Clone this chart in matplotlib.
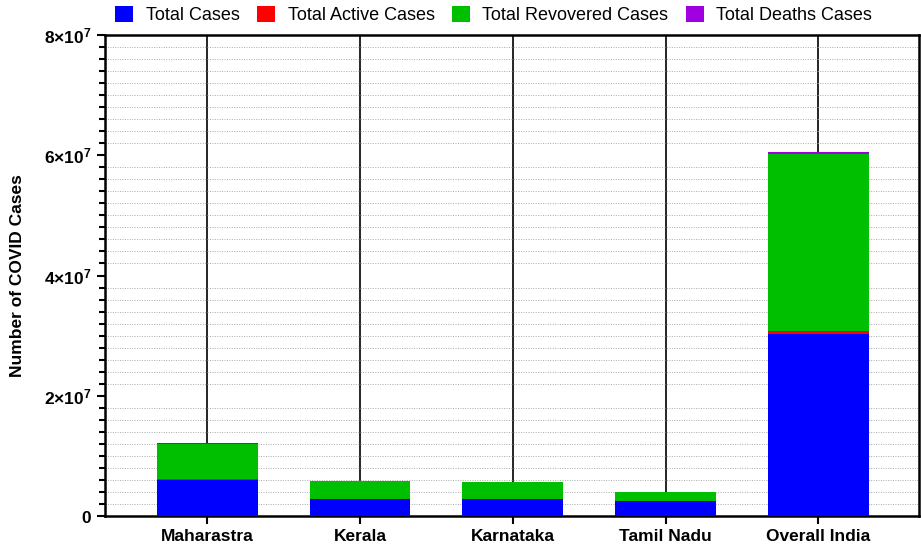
import numpy as np
import matplotlib
matplotlib.use("Agg")
import matplotlib.pyplot as plt
from matplotlib.ticker import MultipleLocator, FuncFormatter

plt.rcParams['font.family'] = ['Liberation Sans', 'DejaVu Sans']
plt.rcParams['mathtext.fontset'] = 'custom'
plt.rcParams['mathtext.rm'] = 'Liberation Sans'
plt.rcParams['mathtext.bf'] = 'Liberation Sans:bold'

regions = ['Maharastra', 'Kerala', 'Karnataka', 'Tamil Nadu', 'Overall India']
total_cases = [6.07e6, 2.93e6, 2.86e6, 2.53e6, 3.03e7]
active_cases = [0.15e6, 0.01e6, 0.03e6, 0.02e6, 0.45e6]
recovered_cases = [5.85e6, 2.89e6, 2.81e6, 1.44e6, 2.94e7]
death_cases = [0.125e6, 0.014e6, 0.036e6, 0.033e6, 0.40e6]

series = [
    ('Total Cases', total_cases, '#0000ff'),
    ('Total Active Cases', active_cases, '#ff0000'),
    ('Total Revovered Cases', recovered_cases, '#00bf00'),
    ('Total Deaths Cases', death_cases, '#a000e0'),
]

fig = plt.figure(figsize=(9.21, 5.44), dpi=100)
ax = fig.add_axes([0.114, 0.051, 0.884, 0.885])

x = np.arange(len(regions))
bottom = np.zeros(len(regions))
for name, vals, col in series:
    vals = np.array(vals)
    ax.bar(x, vals, 0.66, bottom=bottom, color=col, label=name, zorder=3)
    bottom += vals

ax.set_xlim(-0.67, len(regions) - 1 + 0.66)
ax.set_ylim(0, 8e7)
ax.set_xticks(x)
ax.set_xticklabels(regions, fontsize=12.5, fontweight='bold')

ax.yaxis.set_major_locator(MultipleLocator(2e7))
ax.yaxis.set_minor_locator(MultipleLocator(2e6))


def sci_fmt(v, pos):
    if v == 0:
        return r'$\mathbf{0}$'
    return r'$\mathbf{%d{\times}10^{7}}$' % round(v / 1e7)


ax.yaxis.set_major_formatter(FuncFormatter(sci_fmt))
ax.tick_params(axis='y', which='major', labelsize=12.5, length=6, width=1.5)
ax.tick_params(axis='y', which='minor', length=4, width=1.5)
ax.tick_params(axis='x', length=6, width=1.5)

# black lines at categories, dotted minor grid
ax.grid(axis='x', which='major', color='black', lw=1.2, zorder=0)
ax.grid(axis='y', which='minor', color='#aaaaaa', ls=(0, (1, 1.5)), lw=0.7, zorder=0)
ax.set_axisbelow(True)

for sp in ax.spines.values():
    sp.set_linewidth(1.8)

ax.set_ylabel('Number of COVID Cases', fontsize=12.5, fontweight='bold', labelpad=14)

fig.legend(*ax.get_legend_handles_labels(), loc='center', bbox_to_anchor=(0.536, 0.972),
           ncol=4, frameon=False, fontsize=13, handlelength=1.0, handleheight=1.0,
           columnspacing=0.95, handletextpad=0.7, borderaxespad=0)

fig.savefig('out.png', dpi=100)
